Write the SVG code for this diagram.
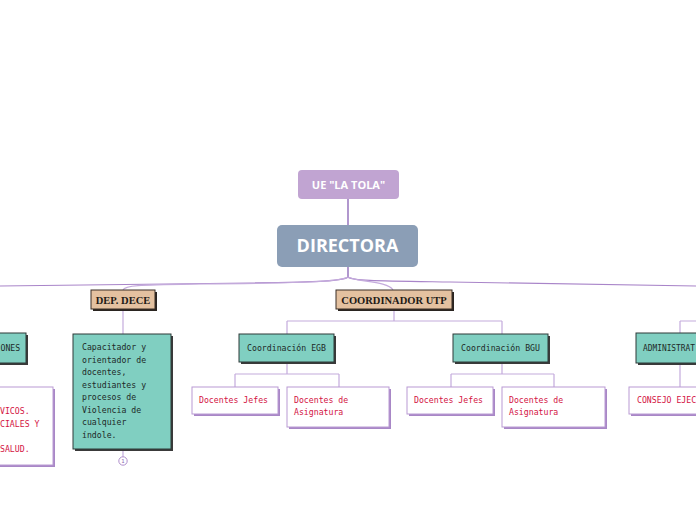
<svg xmlns="http://www.w3.org/2000/svg" width="696" height="520" viewBox="0 0 696 520">
<defs>
<style>
.conn{fill:none;stroke:#a985c9;stroke-width:1.2}
.conn2{fill:none;stroke:#c4abdc;stroke-width:1.2}
.teal{fill:#80cfc1;stroke:#2f3a38;stroke-width:1}
.tshadow{fill:#3a3a3a}
.tan{fill:#e4c1a0;stroke:#3a2e26;stroke-width:1}
.white{fill:#ffffff;stroke:#b99ad3;stroke-width:1}
.wshadow{fill:#a887c6}
.mono{font-family:"DejaVu Sans Mono","Liberation Mono",monospace;font-size:8.2px}
.dark{fill:#1e2a28}
.red{fill:#d3123f}
.serif{font-family:"Liberation Serif",serif;font-weight:bold;font-size:10.5px;fill:#1e1a16}
</style>
</defs>
<rect width="696" height="520" fill="#ffffff"/>
<g id="connectors">
<line x1="348" y1="199" x2="348" y2="226" stroke="#7d52ad" stroke-width="1.2"/>
<line x1="348" y1="267" x2="348" y2="277" stroke="#7d52ad" stroke-width="1.2"/>
<path class="conn" d="M348,277 C344,281 320,282 250,283 L0,286"/>
<path class="conn2" d="M348,277 C340,282 300,283 200,284 C140,285 125,285 123,290"/>
<path class="conn" d="M348,277 C352,281 380,281 450,282 L696,286"/>
<path class="conn2" d="M348,277 C356,282 388,281 393,290"/>
<line class="conn2" x1="123" y1="309" x2="123" y2="334"/>
<line class="conn2" x1="123" y1="449" x2="123" y2="457"/>
<path class="conn2" d="M394,310 V321 M287,321 H502 M287,321 V334 M502,321 V334"/>
<path class="conn2" d="M287,362 V374 M235,374 H339 M235,374 V387 M339,374 V387"/>
<path class="conn2" d="M502,362 V374 M451,374 H554 M451,374 V387 M554,374 V387"/>
<path class="conn2" d="M680,321 H696 M680,321 V334 M680,363 V387"/>
</g>
<g id="ue-la-tola">
<rect x="298" y="170" width="101" height="29" rx="4" fill="#c1a4d2"/>
<text x="348.5" y="189" text-anchor="middle" font-family="Open Sans, Liberation Sans, sans-serif" font-weight="bold" font-size="11px" fill="#ffffff">UE "LA TOLA"</text>
</g>
<g id="directora">
<rect x="277" y="225" width="141" height="42" rx="5" fill="#8b9eb6"/>
<text x="347.5" y="252" text-anchor="middle" font-family="Open Sans, Liberation Sans, sans-serif" font-weight="bold" font-size="18px" fill="#ffffff">DIRECTORA</text>
</g>
<g id="dep-dece">
<rect x="93" y="292" width="64" height="19" fill="#2a2420"/>
<rect class="tan" x="91" y="290" width="64" height="19"/>
<text class="serif" x="123" y="303.5" text-anchor="middle">DEP. DECE</text>
</g>
<g id="coordinador-utp">
<rect x="338" y="292" width="116" height="19" fill="#2a2420"/>
<rect class="tan" x="336" y="290" width="116" height="19"/>
<text class="serif" x="394" y="303.5" text-anchor="middle">COORDINADOR UTP</text>
</g>
<g id="dece-desc">
<rect class="tshadow" x="75" y="336" width="98" height="115"/>
<rect class="teal" x="73" y="334" width="98" height="115"/>
<text class="mono dark" x="82" y="350"><tspan x="82" y="350">Capacitador y</tspan><tspan x="82" y="362.5">orientador de</tspan><tspan x="82" y="375">docentes,</tspan><tspan x="82" y="387.5">estudiantes y</tspan><tspan x="82" y="400">procesos de</tspan><tspan x="82" y="412.5">Violencia de</tspan><tspan x="82" y="425">cualquier</tspan><tspan x="82" y="437.5">índole.</tspan></text>
</g>
<g id="dece-count">
<circle cx="123" cy="461" r="4.2" fill="#ffffff" stroke="#b08fcc" stroke-width="1"/>
<text x="123" y="463.3" text-anchor="middle" font-family="DejaVu Sans Mono, monospace" font-size="5.5px" fill="#8a64b0">1</text>
</g>
<g id="comisiones">
<rect class="tshadow" x="-10" y="335" width="38" height="30"/>
<rect class="teal" x="-12" y="333" width="38" height="30"/>
<text class="mono dark" x="0.5" y="351">ONES</text>
</g>
<g id="left-white">
<rect class="wshadow" x="-10" y="389" width="65" height="78"/>
<rect class="white" x="-12" y="387" width="65" height="78"/>
<text class="mono red"><tspan x="0" y="414">VICOS.</tspan><tspan x="0" y="427">CIALES Y</tspan><tspan x="0" y="452">SALUD.</tspan></text>
</g>
<g id="coord-egb">
<rect class="tshadow" x="241" y="336" width="95" height="28"/>
<rect class="teal" x="239" y="334" width="95" height="28"/>
<text class="mono dark" x="286.5" y="351" text-anchor="middle">Coordinación EGB</text>
</g>
<g id="egb-jefes">
<rect class="wshadow" x="194" y="389" width="86" height="27"/>
<rect class="white" x="192" y="387" width="86" height="27"/>
<text class="mono red" x="199" y="403">Docentes Jefes</text>
</g>
<g id="egb-asignatura">
<rect class="wshadow" x="289" y="389" width="102" height="40"/>
<rect class="white" x="287" y="387" width="102" height="40"/>
<text class="mono red"><tspan x="294" y="403">Docentes de</tspan><tspan x="294" y="415">Asignatura</tspan></text>
</g>
<g id="coord-bgu">
<rect class="tshadow" x="455" y="336" width="95" height="28"/>
<rect class="teal" x="453" y="334" width="95" height="28"/>
<text class="mono dark" x="500.5" y="351" text-anchor="middle">Coordinación BGU</text>
</g>
<g id="bgu-jefes">
<rect class="wshadow" x="409" y="389" width="86" height="27"/>
<rect class="white" x="407" y="387" width="86" height="27"/>
<text class="mono red" x="414" y="403">Docentes Jefes</text>
</g>
<g id="bgu-asignatura">
<rect class="wshadow" x="504" y="389" width="103" height="40"/>
<rect class="white" x="502" y="387" width="103" height="40"/>
<text class="mono red"><tspan x="509" y="403">Docentes de</tspan><tspan x="509" y="415">Asignatura</tspan></text>
</g>
<g id="administrativo">
<rect class="tshadow" x="638" y="335" width="70" height="30"/>
<rect class="teal" x="636" y="333" width="70" height="30"/>
<text class="mono dark" x="643" y="351" textLength="52" lengthAdjust="spacingAndGlyphs">ADMINISTRAT</text>
</g>
<g id="consejo">
<rect class="wshadow" x="631" y="389" width="75" height="27"/>
<rect class="white" x="629" y="387" width="75" height="27"/>
<text class="mono red" x="637" y="403">CONSEJO EJEC</text>
</g>
</svg>
